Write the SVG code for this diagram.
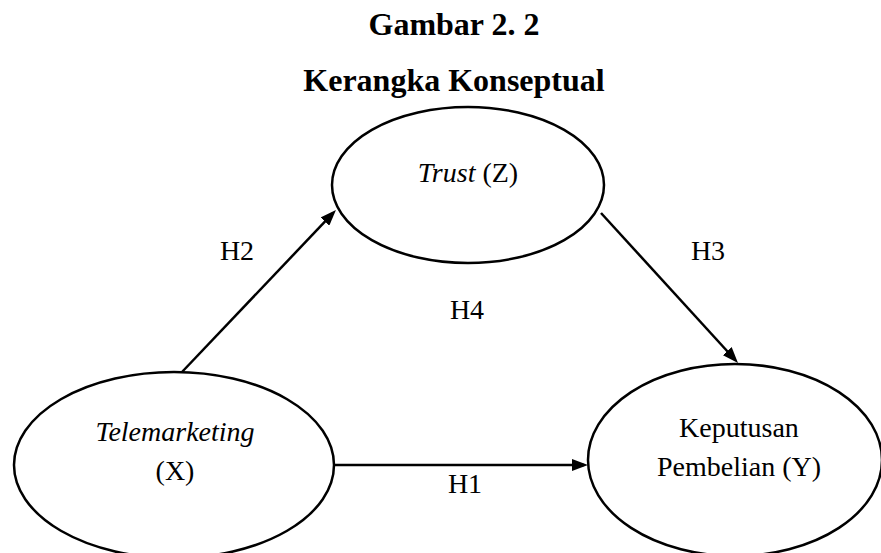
<svg xmlns="http://www.w3.org/2000/svg" width="881" height="553" viewBox="0 0 881 553">
  <style>
    .title { font-family: "Liberation Serif", "Times New Roman", serif; font-size: 32px; font-weight: bold; fill: #000; text-anchor: middle; }
    .lbl { font-family: "Liberation Serif", "Times New Roman", serif; font-size: 28px; fill: #000; text-anchor: middle; }
    .it { font-style: italic; }
    .node { fill: #fff; stroke: #000; stroke-width: 2.5; }
    .edge { fill: none; stroke: #000; stroke-width: 2.5; marker-end: url(#head); }
  </style>
  <defs>
    <marker id="head" markerUnits="userSpaceOnUse" markerWidth="16" markerHeight="12" refX="12" refY="6" orient="auto">
      <path d="M0,0 L16,6 L0,12 z" fill="#000"/>
    </marker>
  </defs>
  <rect width="881" height="553" fill="#fff"/>

  <text class="title" x="454" y="35">Gambar 2. 2</text>
  <text class="title" x="454" y="91">Kerangka Konseptual</text>

  <g id="connectors">
    <line class="edge" x1="182" y1="372" x2="333.2" y2="212.9"/>
    <line class="edge" x1="601" y1="213" x2="735.3" y2="360"/>
    <line class="edge" x1="334" y1="465" x2="584" y2="465"/>
    <text class="lbl" x="237" y="260">H2</text>
    <text class="lbl" x="708" y="260">H3</text>
    <text class="lbl" x="467" y="319">H4</text>
    <text class="lbl" x="465" y="493">H1</text>
  </g>

  <g id="trust">
    <ellipse class="node" cx="468" cy="185" rx="136" ry="78"/>
    <text class="lbl" x="468" y="182"><tspan class="it">Trust</tspan> (Z)</text>
  </g>

  <g id="telemarketing">
    <ellipse class="node" cx="174" cy="465" rx="160" ry="93"/>
    <text class="lbl it" x="175" y="441">Telemarketing</text>
    <text class="lbl" x="175" y="480">(X)</text>
  </g>

  <g id="keputusan">
    <ellipse class="node" cx="735" cy="460" rx="147" ry="96"/>
    <text class="lbl" x="739" y="437">Keputusan</text>
    <text class="lbl" x="739" y="476">Pembelian (Y)</text>
  </g>
</svg>
